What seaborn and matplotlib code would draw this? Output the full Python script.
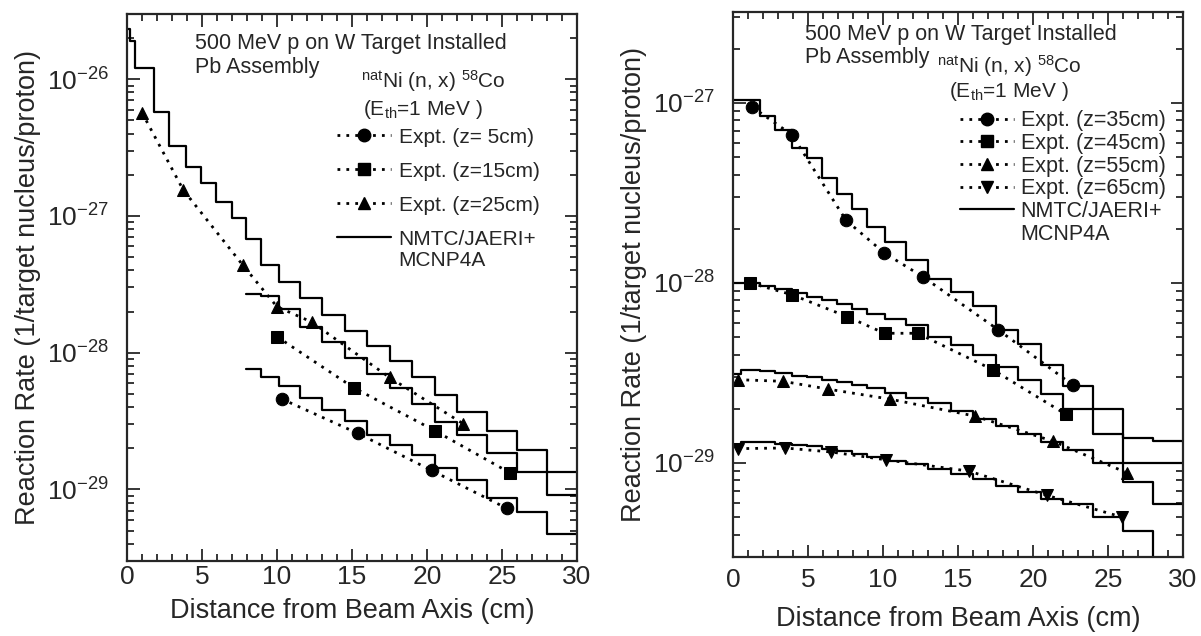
import numpy as np
import matplotlib
matplotlib.use("Agg")
import matplotlib.pyplot as plt
import seaborn as sns
from matplotlib.lines import Line2D
from matplotlib.ticker import FixedLocator, MultipleLocator, NullFormatter

sns.set_style("ticks")
plt.rcParams['font.family'] = ['Liberation Sans', 'DejaVu Sans']
plt.rcParams['mathtext.default'] = 'regular'

# ---- left panel data (z = 5, 15, 25 cm) ----
x_5cm = [10.3, 15.4, 20.3, 25.3]
y_5cm = [4.6e-29, 2.57e-29, 1.38e-29, 7.3e-30]
x_15cm = [10.0, 15.1, 20.5, 25.5]
y_15cm = [1.31e-28, 5.56e-29, 2.7e-29, 1.33e-29]
x_25cm = [1.0, 3.75, 7.7, 10.0, 12.3, 17.5, 22.4]
y_25cm = [5.7e-27, 1.55e-27, 4.4e-28, 2.17e-28, 1.68e-28, 6.6e-29, 3.03e-29]

edges_L = [0, 0.2, 0.5, 1.8, 2.8, 3.9, 4.9, 5.9, 7.0, 7.9, 8.9, 10.1, 11.5,
           13.0, 14.5, 16.0, 17.5, 19.0, 20.5, 22.0, 24.0, 26.0, 28.0, 30.0]
calc_25cm = [2.35e-26, 1.92e-26, 1.2e-26, 5.75e-27, 3.26e-27, 2.29e-27, 1.75e-27,
             1.27e-27, 9.7e-28, 6.8e-28, 4.4e-28, 3.3e-28, 2.5e-28, 1.9e-28,
             1.45e-28, 1.12e-28, 8.7e-29, 6.7e-29, 4.9e-29, 3.7e-29, 2.7e-29,
             1.93e-29, 1.35e-29]
edges_L2 = [7.9, 8.9, 10.1, 11.5, 13.0, 14.5, 16.0, 17.5, 19.0, 20.5, 22.0,
            24.0, 26.0, 28.0, 30.0]
calc_15cm = [2.7e-28, 2.6e-28, 2.1e-28, 1.55e-28, 1.2e-28, 9.2e-29, 7.0e-29,
             5.5e-29, 4.2e-29, 3.1e-29, 2.5e-29, 1.85e-29, 1.35e-29, 9.1e-30]
calc_5cm = [7.65e-29, 6.7e-29, 5.75e-29, 4.7e-29, 3.8e-29, 3.16e-29, 2.5e-29,
            2.1e-29, 1.78e-29, 1.44e-29, 1.18e-29, 8.7e-30, 6.8e-30, 4.7e-30]

# ---- right panel data (z = 35, 45, 55, 65 cm) ----
x_35cm = [1.27, 3.93, 7.53, 10.07, 12.67, 17.67, 22.67]
y_35cm = [9.5e-28, 6.65e-28, 2.23e-28, 1.47e-28, 1.08e-28, 5.5e-29, 2.7e-29]
x_45cm = [1.13, 3.93, 7.6, 10.1, 12.3, 17.3, 22.2]
y_45cm = [1.0e-28, 8.6e-29, 6.5e-29, 5.25e-29, 5.25e-29, 3.3e-29, 1.86e-29]
x_55cm = [0.3, 3.33, 6.33, 10.47, 16.13, 21.33, 26.27]
y_55cm = [2.9e-29, 2.84e-29, 2.57e-29, 2.26e-29, 1.82e-29, 1.32e-29, 8.8e-30]
x_65cm = [0.3, 3.47, 6.53, 10.2, 15.73, 20.93, 25.93]
y_65cm = [1.2e-29, 1.21e-29, 1.15e-29, 1.04e-29, 9.0e-30, 6.6e-30, 5.0e-30]

edges_R = [0, 0.5, 1.8, 2.8, 3.9, 4.9, 5.9, 6.9, 7.9, 8.9, 10.1, 11.5, 13.0,
           14.5, 16.0, 17.5, 19.0, 20.5, 22.0, 24.0, 26.0, 28.0, 30.0]
calc_35cm = [1.04e-27, 1.04e-27, 8.5e-28, 7.1e-28, 5.65e-28, 4.95e-28, 3.85e-28,
             3.1e-28, 2.56e-28, 2.04e-28, 1.69e-28, 1.34e-28, 1.05e-28, 8.9e-29,
             7.4e-29, 5.5e-29, 4.55e-29, 3.5e-29, 2.66e-29, 2.0e-29, 1.37e-29,
             1.33e-29]
calc_45cm = [1.0e-28, 1.0e-28, 9.6e-29, 9.2e-29, 8.8e-29, 8.4e-29, 8.0e-29,
             7.6e-29, 7.2e-29, 6.7e-29, 6.3e-29, 5.8e-29, 5.0e-29, 4.5e-29,
             4.0e-29, 3.4e-29, 2.9e-29, 2.4e-29, 2.0e-29, 1.45e-29, 1.0e-29,
             1.0e-29]
calc_55cm = [3.1e-29, 3.3e-29, 3.25e-29, 3.15e-29, 3.05e-29, 3.0e-29, 2.9e-29,
             2.8e-29, 2.7e-29, 2.6e-29, 2.45e-29, 2.3e-29, 2.15e-29, 1.95e-29,
             1.75e-29, 1.6e-29, 1.45e-29, 1.3e-29, 1.18e-29, 1.0e-29, 7.8e-30,
             5.9e-30]
calc_65cm = [1.25e-29, 1.3e-29, 1.3e-29, 1.28e-29, 1.26e-29, 1.24e-29, 1.2e-29,
             1.16e-29, 1.12e-29, 1.08e-29, 1.03e-29, 9.8e-30, 9.3e-30, 8.7e-30,
             8.1e-30, 7.4e-30, 6.9e-30, 6.3e-30, 5.9e-30, 5.0e-30, 4.2e-30,
             2.5e-30]

title_l1 = "500 MeV p on W Target Installed"
title_l2 = "Pb Assembly"
react_txt = "$^{nat}$Ni (n, x) $^{58}$Co"
eth_txt = "(E$_{th}$=1 MeV )"
calc_lbl = "NMTC/JAERI+"
calc_lbl2 = "MCNP4A"
xlab = "Distance from Beam Axis (cm)"
ylab = "Reaction Rate (1/target nucleus/proton)"

fig = plt.figure(figsize=(12.01, 6.36), dpi=100)
ax1 = fig.add_axes([127 / 1201, 1 - 561 / 636, 450 / 1201, 547 / 636])
ax2 = fig.add_axes([733 / 1201, 1 - 557 / 636, 450 / 1201, 545 / 636])

dot = (0, (1, 2.2))


def expt(ax, x, y, m, lbl):
    sns.lineplot(x=x, y=y, ax=ax, color='k', linestyle=dot, linewidth=2.0,
                 marker=m, markersize=9, markeredgecolor='k', label=lbl,
                 legend=False, sort=False)


def calc(ax, edges, vals):
    sns.lineplot(x=edges, y=list(vals) + [vals[-1]], ax=ax, color='k',
                 linewidth=1.6, drawstyle='steps-post', legend=False)


# left
calc(ax1, edges_L, calc_25cm)
calc(ax1, edges_L2, calc_15cm)
calc(ax1, edges_L2, calc_5cm)
expt(ax1, x_5cm, y_5cm, 'o', "Expt. (z= 5cm)")
expt(ax1, x_15cm, y_15cm, 's', "Expt. (z=15cm)")
expt(ax1, x_25cm, y_25cm, '^', "Expt. (z=25cm)")

# right
for v in [calc_35cm, calc_45cm, calc_55cm, calc_65cm]:
    calc(ax2, edges_R, v)
expt(ax2, x_35cm, y_35cm, 'o', "Expt. (z=35cm)")
expt(ax2, x_45cm, y_45cm, 's', "Expt. (z=45cm)")
expt(ax2, x_55cm, y_55cm, '^', "Expt. (z=55cm)")
expt(ax2, x_65cm, y_65cm, 'v', "Expt. (z=65cm)")

for ax, ylim, decades, xpad, xlpad in [(ax1, (3e-30, 3e-26), [-29, -28, -27, -26], 3, 6),
                                       (ax2, (3e-30, 3.2e-27), [-29, -28, -27], 8, 10)]:
    ax.set_yscale('log')
    ax.set_xlim(0, 30)
    ax.set_ylim(*ylim)
    ax.xaxis.set_major_locator(MultipleLocator(5))
    ax.xaxis.set_minor_locator(MultipleLocator(1))
    minors = [m * 10.0 ** d for d in range(-30, -25) for m in range(2, 10)]
    minors = [v for v in minors if ylim[0] <= v <= ylim[1]]
    ax.yaxis.set_major_locator(FixedLocator([10.0 ** d for d in decades]))
    ax.yaxis.set_minor_locator(FixedLocator(minors))
    ax.yaxis.set_minor_formatter(NullFormatter())
    ax.tick_params(which='both', direction='in', top=True, right=True,
                   width=1.3, labelsize=19)
    ax.tick_params(which='major', length=9)
    ax.tick_params(which='minor', length=5)
    ax.tick_params(axis='x', which='major', pad=xpad)
    ax.tick_params(axis='y', which='major', pad=13)
    for s in ax.spines.values():
        s.set_linewidth(1.6)
    ax.set_xlabel(xlab, fontsize=19.5, labelpad=xlpad)
    ax.set_ylabel(ylab, fontsize=19.5, labelpad=4)
    ax.grid(False)

# annotations
ax1.text(0.151, 0.965, title_l1, transform=ax1.transAxes, fontsize=15.5,
         va='top', ha='left')
ax1.text(0.151, 0.922, title_l2, transform=ax1.transAxes, fontsize=15.5,
         va='top', ha='left')
ax1.text(0.681, 0.878, react_txt, transform=ax1.transAxes, fontsize=15,
         ha='center', va='center')
ax1.text(0.658, 0.826, eth_txt, transform=ax1.transAxes, fontsize=15,
         ha='center', va='center')
ax2.text(0.16, 0.978, title_l1, transform=ax2.transAxes, fontsize=15.5,
         va='top', ha='left')
ax2.text(0.16, 0.935, title_l2, transform=ax2.transAxes, fontsize=15.5,
         va='top', ha='left')
ax2.text(0.615, 0.9, react_txt, transform=ax2.transAxes, fontsize=15,
         ha='center', va='center')
ax2.text(0.612, 0.855, eth_txt, transform=ax2.transAxes, fontsize=15,
         ha='center', va='center')


def handles(ax, n):
    hs = ax.get_lines()[-n:]
    out = [Line2D([], [], color='k', linestyle=dot, linewidth=2.0,
                  marker=h.get_marker(), markersize=9) for h in hs]
    out.append(Line2D([], [], color='k', linewidth=1.6))
    labs = [h.get_label() for h in hs] + [calc_lbl]
    return out, labs


h1, l1 = handles(ax1, 3)
leg1 = ax1.legend(h1, l1, loc='upper left', bbox_to_anchor=(0.467, 0.792),
                  frameon=False, fontsize=15, handlelength=2.6,
                  handletextpad=0.35, labelspacing=0.72, borderpad=0,
                  borderaxespad=0)
h2, l2 = handles(ax2, 4)
leg2 = ax2.legend(h2, l2, loc='upper left', bbox_to_anchor=(0.505, 0.82),
                  frameon=False, fontsize=15.5, handlelength=2.5,
                  handletextpad=0.3, labelspacing=0.08, borderpad=0,
                  borderaxespad=0)

# second line of the calculation label, aligned under the legend text
fig.canvas.draw()
for ax, leg, fs in [(ax1, leg1, 15), (ax2, leg2, 15.5)]:
    bb = leg.get_texts()[-1].get_window_extent()
    x0, y0 = ax.transAxes.inverted().transform((bb.x0, bb.y0))
    ax.text(x0, y0 - 0.004, calc_lbl2, transform=ax.transAxes, fontsize=fs,
            ha='left', va='top')

fig.savefig("out.png", dpi=100)
